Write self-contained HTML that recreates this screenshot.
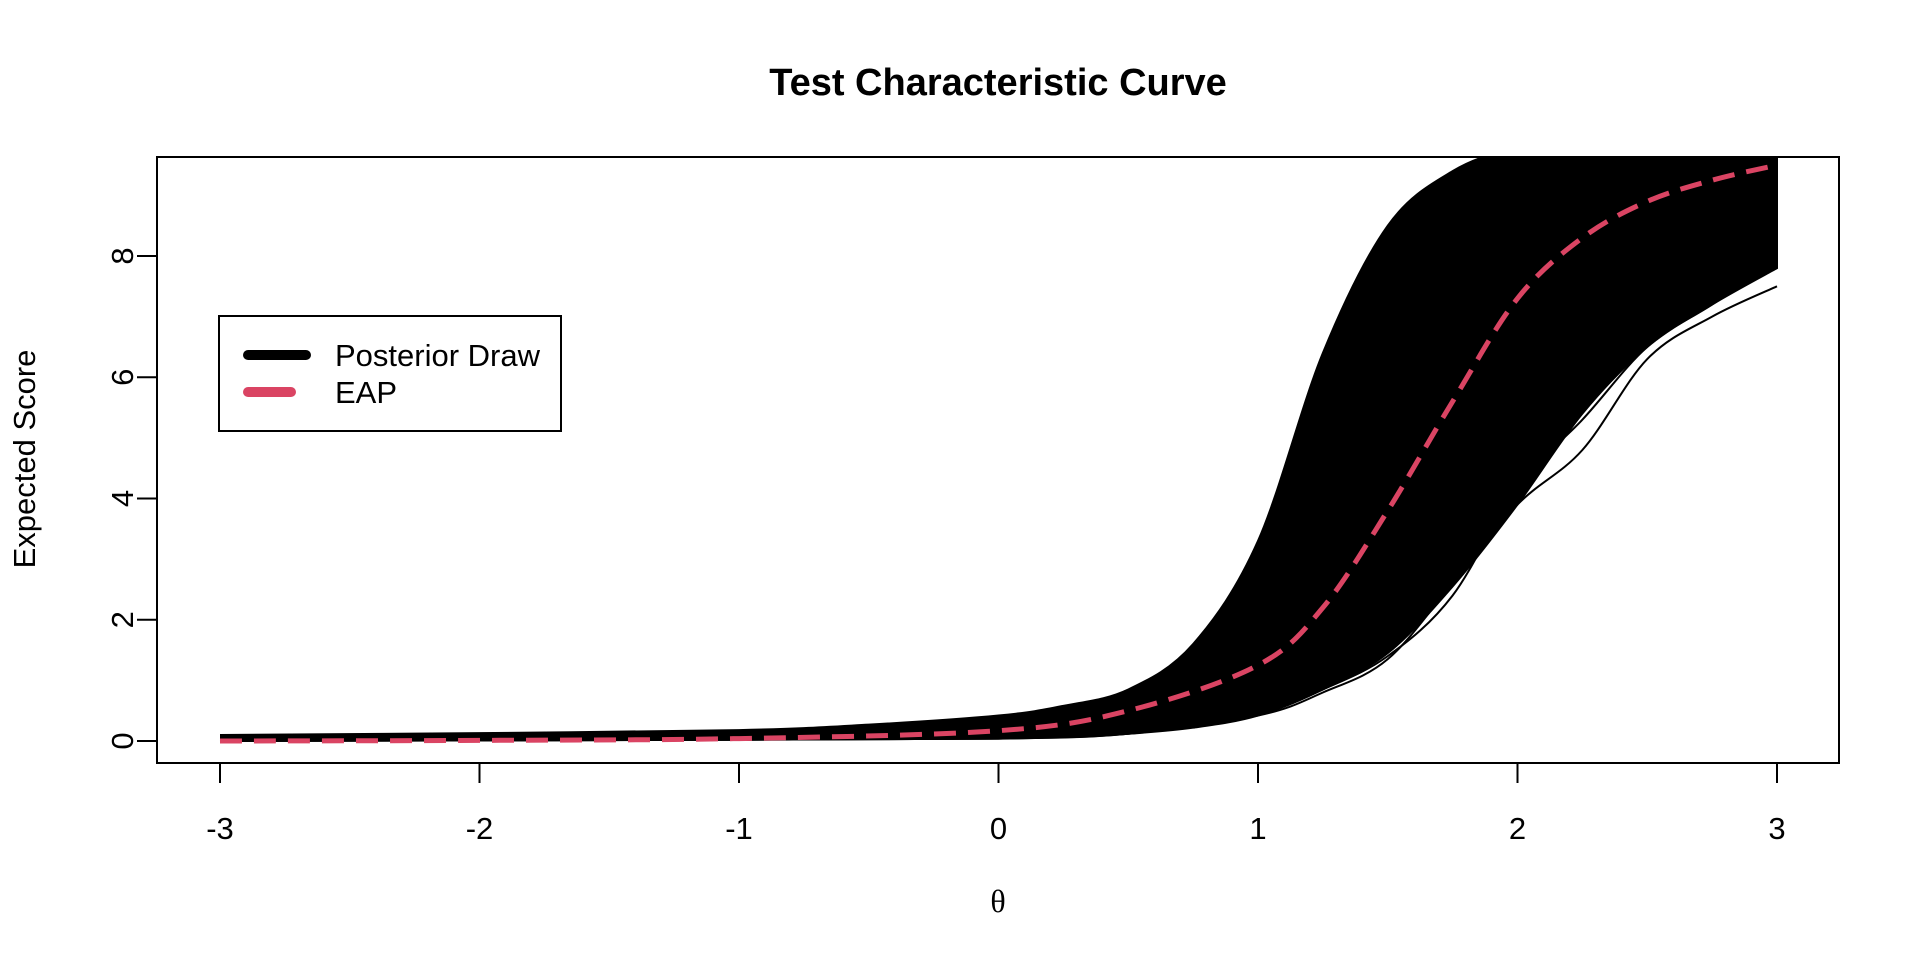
<!DOCTYPE html>
<html><head><meta charset="utf-8">
<style>
html,body{margin:0;padding:0;background:#fff;}
svg{display:block;font-family:"Liberation Sans",Arial,sans-serif;}
</style></head>
<body>
<svg id="chart" width="1920" height="960" viewBox="0 0 1920 960" xmlns="http://www.w3.org/2000/svg">
  <defs><clipPath id="plotclip"><rect x="157" y="157" width="1682" height="606"/></clipPath></defs>
  <text x="998" y="95" text-anchor="middle" font-size="38" font-weight="bold">Test Characteristic Curve</text>
  <g id="bandlayer" clip-path="url(#plotclip)"></g>
  <g id="eaplayer" clip-path="url(#plotclip)"></g>
  <rect x="157" y="157" width="1682" height="606" fill="none" stroke="#000" stroke-width="2"/>
  <g id="xaxis"></g>
  <g id="yaxis"></g>
  <text x="998" y="912" text-anchor="middle" font-size="32" font-family="Liberation Serif, serif">θ</text>
  <text x="0" y="0" transform="translate(35,459) rotate(-90)" text-anchor="middle" font-size="31">Expected Score</text>
  <g>
    <rect x="219" y="316" width="342" height="115" fill="#fff" stroke="#000" stroke-width="2"/>
    <line x1="248" y1="355" x2="306" y2="355" stroke="#000" stroke-width="10" stroke-linecap="round"/>
    <text x="335" y="366" font-size="31">Posterior Draw</text>
    <line x1="248" y1="392" x2="291" y2="392" stroke="#DA4463" stroke-width="10" stroke-linecap="round"/>
    <text x="335" y="403" font-size="31">EAP</text>
  </g>
</svg>
<script>
const thetaGrid = [-3,-2,-1,-0.5,0,0.25,0.5,0.75,1,1.25,1.5,1.75,2,2.25,2.5,2.75,3];
const bandUpper = [0.1,0.13,0.18,0.27,0.42,0.58,0.85,1.6,3.3,6.4,8.5,9.4,9.8,10,10,10,10];
const bandLower = [0,0.01,0.02,0.03,0.04,0.07,0.12,0.22,0.42,0.85,1.45,2.55,3.9,5.4,6.5,7.2,7.8];
const eapTheta = [-3,-2,-1,0,0.5,1,1.25,1.5,1.75,2,2.25,2.5,2.75,3];
const eapValues = [0,0.01,0.04,0.17,0.5,1.25,2.2,3.8,5.6,7.3,8.3,8.9,9.25,9.5];
const xTicks = [-3,-2,-1,0,1,2,3];
const yTicks = [0,2,4,6,8];
const outlierTheta = [-3,-1,0,0.5,1,1.25,1.5,1.75,2,2.25,2.5,2.75,3];
const outlierLow = [0,0.02,0.04,0.12,0.42,0.8,1.35,2.6,3.9,4.8,6.3,7.0,7.5];
const outlierLow2 = [0,0.02,0.04,0.12,0.45,0.85,1.4,2.4,4.2,5.3,6.5,7.2,7.9];

const NS="http://www.w3.org/2000/svg";
function X(v){return 220+(v+3)*(1777-220)/6;}
function Y(v){return 741-v*(741-256)/8;}
function smooth(xs,ys){
  const p=xs.map((x,i)=>[X(x),Y(ys[i])]);
  let d="M"+p[0][0]+","+p[0][1];
  for(let i=0;i<p.length-1;i++){
    const p0=p[i-1]||p[i],p1=p[i],p2=p[i+1],p3=p[i+2]||p2;
    const c1=[p1[0]+(p2[0]-p0[0])/6,p1[1]+(p2[1]-p0[1])/6];
    const c2=[p2[0]-(p3[0]-p1[0])/6,p2[1]-(p3[1]-p1[1])/6];
    d+=" C"+c1+" "+c2+" "+p2;
  }
  return d;
}
function mk(tag,attrs,parent){const e=document.createElementNS(NS,tag);for(const k in attrs)e.setAttribute(k,attrs[k]);parent.appendChild(e);return e;}

const band=document.getElementById('bandlayer');
const up=smooth(thetaGrid,bandUpper);
const loRev=smooth(thetaGrid.slice().reverse(),bandLower.slice().reverse());
const poly=mk('path',{d:up+" L"+loRev.slice(1),fill:"#000",stroke:"#000","stroke-width":2},band);


const o1=mk('path',{d:smooth(outlierTheta,outlierLow),fill:"none",stroke:"#000","stroke-width":2},band);


const o2=mk('path',{d:smooth(outlierTheta,outlierLow2),fill:"none",stroke:"#000","stroke-width":2},band);



const eap=mk('path',{d:smooth(eapTheta,eapValues),fill:"none",stroke:"#DA4463","stroke-width":5,"stroke-dasharray":"22 12"},document.getElementById('eaplayer'));



const xa=document.getElementById('xaxis');
const xl=mk('line',{x1:X(xTicks[0]),x2:X(xTicks[xTicks.length-1]),y1:763,y2:763,stroke:"#000","stroke-width":2},xa);


xTicks.forEach(t=>{
  const tk=mk('line',{x1:X(t),x2:X(t),y1:763,y2:783,stroke:"#000","stroke-width":2},xa);
  
  
  const tx=mk('text',{x:X(t),y:839,"text-anchor":"middle","font-size":31},xa);
  tx.textContent=t;
  
  
});
const ya=document.getElementById('yaxis');
const yl=mk('line',{x1:157,x2:157,y1:Y(yTicks[0]),y2:Y(yTicks[yTicks.length-1]),stroke:"#000","stroke-width":2},ya);


yTicks.forEach(t=>{
  const tk=mk('line',{x1:137,x2:157,y1:Y(t),y2:Y(t),stroke:"#000","stroke-width":2},ya);
  
  
  const tx=mk('text',{x:0,y:0,transform:"translate(133,"+Y(t)+") rotate(-90)","text-anchor":"middle","font-size":31},ya);
  tx.textContent=t;
  
  
});
</script>
</body></html>
